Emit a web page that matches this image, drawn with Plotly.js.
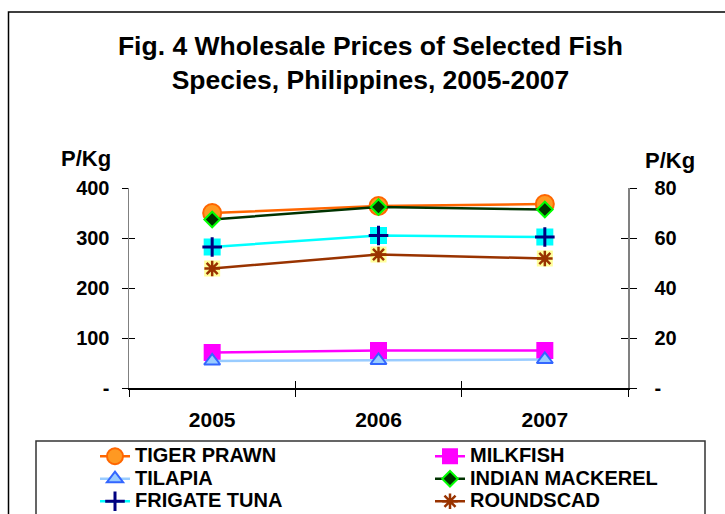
<!DOCTYPE html>
<html>
<head>
<meta charset="utf-8">
<script src="https://cdn.plot.ly/plotly-3.0.1.min.js"></script>
<style>html,body{margin:0;padding:0;background:#fff;}#chart{width:725px;height:514px;}</style>
</head>
<body>
<div id="chart"></div>
<script>
// ---- data ----
var years = ['2005', '2006', '2007'];
var tigerPrawn = [350, 364, 368];
var milkfish = [71, 75, 75];
var tilapia = [54, 55, 57];
var indianMackerel = [337, 362, 357];
var frigateTuna = [282, 305, 302];
var roundscad = [239, 267, 259];

var seriesNames = ['TIGER PRAWN', 'MILKFISH', 'TILAPIA', 'INDIAN MACKEREL', 'FRIGATE TUNA', 'ROUNDSCAD'];
var leftTickVals = [0, 100, 200, 300, 400];
var leftTickText = ['-', '100', '200', '300', '400'];
var rightTickVals = [0, 20, 40, 60, 80];
var rightTickText = ['-', '20', '40', '60', '80'];

// ---- layout geometry ----
var W = 725, H = 514;
var M = {l: 129, r: 10, t: 188, b: 126, autoexpand: false};
var plotW = W - M.l - M.r, plotH = H - M.t - M.b;
var xDomEnd = 499 / plotW;
function PX(px) { return (px - M.l) / plotW; }
function PY(py) { return (H - M.b - py) / plotH; }

var FONT = 'Liberation Sans, Arial, sans-serif';
function nm(s) { return '<span style="font-size:20px">' + s + '</span>'; }

function ghost(xa, ya, yv) {
  return {x: years, y: yv, xaxis: xa, yaxis: ya, type: 'scatter', mode: 'markers',
          marker: {opacity: 0, size: 1}, showlegend: false, hoverinfo: 'skip'};
}

var traces = [
  // axis carriers (invisible) so overlay axes draw their crossing ticks
  ghost('x2', 'y', milkfish),
  ghost('x', 'y3', milkfish),
  ghost('x', 'y2', milkfish.map(function (v) { return v / 5; })),
  ghost('x', 'y4', milkfish.map(function (v) { return v / 5; })),
  // backgrounds for composite markers (not in legend)
  {x: years, y: frigateTuna, type: 'scatter', mode: 'markers', showlegend: false, hoverinfo: 'skip',
   marker: {symbol: 'square', size: 17, color: '#00FFFF', line: {width: 0}}},
  {x: years, y: roundscad, type: 'scatter', mode: 'markers', showlegend: false, hoverinfo: 'skip',
   marker: {symbol: 'square', size: 16, color: '#FFFF99', line: {width: 0}}},
  {x: years, y: tigerPrawn, name: nm(seriesNames[0]), legend: 'legend', type: 'scatter', mode: 'lines+markers',
   line: {color: '#FF6600', width: 2.5},
   marker: {symbol: 'circle', size: 18, color: '#FF9922', line: {color: '#FF6600', width: 2}}},
  {x: years, y: milkfish, name: nm(seriesNames[1]), legend: 'legend2', type: 'scatter', mode: 'lines+markers',
   line: {color: '#FF00FF', width: 2.5},
   marker: {symbol: 'square', size: 17, color: '#FF00FF', line: {width: 0}}},
  {x: years, y: tilapia, name: nm(seriesNames[2]), legend: 'legend', type: 'scatter', mode: 'lines+markers',
   line: {color: '#99CCFF', width: 2.5},
   marker: {symbol: 'triangle-up', size: 14, color: '#99CCFF', line: {color: '#3366FF', width: 2}}},
  {x: years, y: indianMackerel, name: nm(seriesNames[3]), legend: 'legend2', type: 'scatter', mode: 'lines+markers',
   line: {color: '#003300', width: 2.5},
   marker: {symbol: 'diamond', size: 12, color: '#003300', line: {color: '#00FF00', width: 2}}},
  {x: years, y: frigateTuna, name: nm(seriesNames[4]), legend: 'legend', type: 'scatter', mode: 'lines+markers',
   line: {color: '#00FFFF', width: 2.5},
   marker: {symbol: 'cross-thin-open', size: 14, color: '#000080', line: {color: '#000080', width: 3}}},
  {x: years, y: roundscad, name: nm(seriesNames[5]), legend: 'legend2', type: 'scatter', mode: 'lines+markers',
   line: {color: '#993300', width: 2.5},
   marker: {symbol: 'asterisk-open', size: 13, color: '#993300', line: {color: '#993300', width: 2.5}}}
];

function legendAt(px) {
  return {
    orientation: 'v', xref: 'paper', yref: 'paper',
    x: PX(px), xanchor: 'left', y: PY(440), yanchor: 'top',
    bgcolor: 'rgba(0,0,0,0)', borderwidth: 0,
    font: {family: FONT, size: 15, weight: 'bold', color: '#000'},
    traceorder: 'normal'
  };
}

var layout = {
  width: W, height: H,
  margin: M,
  paper_bgcolor: '#ffffff', plot_bgcolor: '#ffffff',
  font: {family: FONT, color: '#000000'},
  showlegend: true,
  title: {
    text: 'Fig. 4 Wholesale Prices of Selected Fish<br>Species, Philippines, 2005-2007',
    font: {family: FONT, size: 26.5, weight: 'bold', color: '#000'},
    xref: 'container', yref: 'container', x: 370.5 / W, xanchor: 'center',
    y: 1 - 55 / H, yanchor: 'top'
  },
  xaxis: {
    type: 'category', categoryorder: 'array', categoryarray: years,
    domain: [0, xDomEnd], range: [-0.5, 2.5],
    showgrid: false, zeroline: false,
    showline: true, linecolor: '#000000', linewidth: 1.5,
    tickson: 'boundaries', ticks: 'outside', ticklen: 7, tickcolor: '#000', tickwidth: 1,
    tickfont: {family: FONT, size: 21, weight: 'bold'},
    ticklabelstandoff: 12
  },
  xaxis2: {
    type: 'category', categoryorder: 'array', categoryarray: years,
    overlaying: 'x', anchor: 'y', domain: [0, xDomEnd], range: [-0.5, 2.5],
    tickson: 'boundaries', ticks: 'inside', ticklen: 7, tickcolor: '#000', tickwidth: 1,
    showticklabels: false, showline: false, showgrid: false, zeroline: false
  },
  yaxis: {
    range: [0, 400], tickmode: 'array', tickvals: leftTickVals, ticktext: leftTickText,
    showgrid: false, zeroline: false,
    showline: true, linecolor: '#808080', linewidth: 1.5,
    ticks: 'outside', ticklen: 6, tickcolor: '#000', tickwidth: 1,
    tickfont: {family: FONT, size: 20, weight: 'bold'},
    ticklabelstandoff: 8
  },
  yaxis3: {
    overlaying: 'y', anchor: 'x', side: 'left', range: [0, 400],
    tickmode: 'array', tickvals: leftTickVals, ticks: 'inside', ticklen: 6, tickcolor: '#000', tickwidth: 1,
    showticklabels: false, showline: false, showgrid: false, zeroline: false
  },
  yaxis2: {
    overlaying: 'y', anchor: 'x', side: 'right', range: [0, 80],
    tickmode: 'array', tickvals: rightTickVals, ticktext: rightTickText,
    showgrid: false, zeroline: false,
    showline: true, linecolor: '#808080', linewidth: 1.5,
    ticks: 'outside', ticklen: 7, tickcolor: '#000', tickwidth: 1,
    tickfont: {family: FONT, size: 20, weight: 'bold'},
    ticklabelstandoff: 14
  },
  yaxis4: {
    overlaying: 'y', anchor: 'x', side: 'right', range: [0, 80],
    tickmode: 'array', tickvals: rightTickVals, ticks: 'inside', ticklen: 7, tickcolor: '#000', tickwidth: 1,
    showticklabels: false, showline: false, showgrid: false, zeroline: false
  },
  legend: legendAt(95),
  legend2: legendAt(430),
  annotations: [
    {text: 'P/Kg', xref: 'paper', yref: 'paper', x: PX(85.5), y: PY(158), xanchor: 'center', yanchor: 'middle',
     showarrow: false, font: {family: FONT, size: 22, weight: 'bold'}},
    {text: 'P/Kg', xref: 'paper', yref: 'paper', x: PX(670), y: PY(160), xanchor: 'center', yanchor: 'middle',
     showarrow: false, font: {family: FONT, size: 22, weight: 'bold'}}
  ],
  shapes: [
    {type: 'rect', xref: 'paper', yref: 'paper', x0: PX(8.5), x1: PX(760), y0: PY(560), y1: PY(12),
     line: {color: '#000000', width: 1.5}, fillcolor: 'rgba(0,0,0,0)', layer: 'below'},
    {type: 'rect', xref: 'paper', yref: 'paper', x0: PX(36), x1: PX(705), y0: PY(560), y1: PY(441),
     line: {color: '#333333', width: 1.5}, fillcolor: 'rgba(0,0,0,0)', layer: 'below'}
  ]
};

Plotly.newPlot('chart', traces, layout, {displayModeBar: false, staticPlot: true});
</script>
</body>
</html>
